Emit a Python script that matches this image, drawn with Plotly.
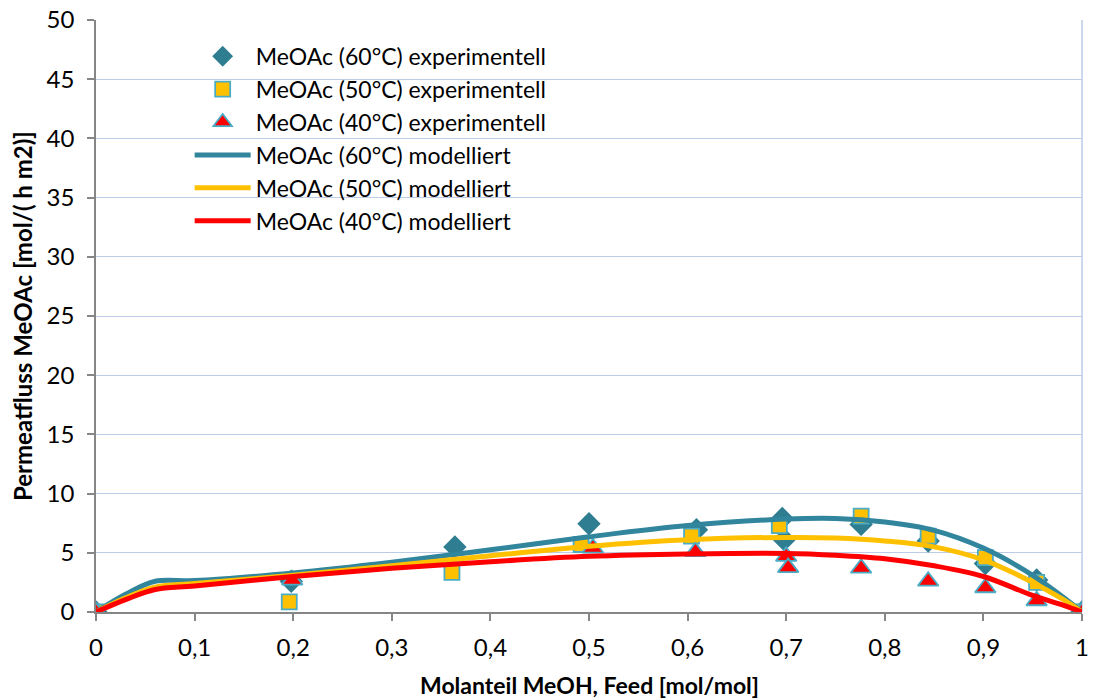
import plotly.graph_objects as go

# Experimental permeate flux of methyl acetate at three temperatures
x_60 = [0.0, 0.198, 0.364, 0.500, 0.609, 0.696, 0.698, 0.776, 0.844, 0.902, 0.954, 1.0]
y_60 = [0.0, 2.6, 5.5, 7.45, 6.95, 7.9, 6.1, 7.4, 6.0, 4.1, 2.7, 0.0]

x_50 = [0.0, 0.196, 0.361, 0.492, 0.604, 0.693, 0.776, 0.844, 0.902, 0.954, 1.0]
y_50 = [0.0, 0.85, 3.35, 5.7, 6.4, 7.3, 8.1, 6.4, 4.6, 2.5, 0.0]

x_40 = [0.0, 0.199, 0.504, 0.608, 0.700, 0.702, 0.776, 0.844, 0.902, 0.954, 1.0]
y_40 = [0.0, 2.7, 5.4, 5.1, 4.7, 3.75, 3.7, 2.6, 2.05, 0.95, 0.0]

# Model curves
x_mod = [0.0, 0.03, 0.06, 0.1, 0.2, 0.3, 0.4, 0.5, 0.6, 0.7, 0.75, 0.8, 0.85, 0.9, 0.95, 0.98, 1.0]
m_60 = [0.0, 1.5, 2.6, 2.65, 3.3, 4.2, 5.25, 6.35, 7.3, 7.85, 7.9, 7.6, 6.9, 5.4, 3.1, 1.3, 0.0]
m_50 = [0.0, 1.2, 2.1, 2.4, 3.1, 3.9, 4.75, 5.55, 6.1, 6.3, 6.25, 6.0, 5.5, 4.4, 2.5, 1.1, 0.0]
m_40 = [0.0, 1.05, 1.9, 2.2, 3.0, 3.7, 4.25, 4.7, 4.9, 4.95, 4.8, 4.5, 3.9, 3.0, 1.4, 0.6, 0.0]

x_ticks = [0, 0.1, 0.2, 0.3, 0.4, 0.5, 0.6, 0.7, 0.8, 0.9, 1.0]
x_tick_text = ["0", "0,1", "0,2", "0,3", "0,4", "0,5", "0,6", "0,7", "0,8", "0,9", "1"]

x_title = "Molanteil MeOH, Feed [mol/mol]"
y_title = "Permeatfluss MeOAc [mol/( h m2)]"

TEAL = "#31859C"
TEAL_DARK = "#2F7D90"
EDGE = "#4BACC6"
GOLD = "#FFC000"
RED = "#FF0000"
GRID = "#BCCBE6"
AXIS = "#868686"
FONT = "Lato"

fig = go.Figure()

fig.add_trace(go.Scatter(
    x=x_60, y=y_60, mode="markers", name="MeOAc (60°C) experimentell",
    legendgroup="a",
    marker=dict(symbol="diamond", size=18, color=TEAL_DARK, line=dict(width=0)),
))
fig.add_trace(go.Scatter(
    x=x_50, y=y_50, mode="markers", name="MeOAc (50°C) experimentell",
    legendgroup="b",
    marker=dict(symbol="square", size=15, color=GOLD, line=dict(width=1.8, color=EDGE)),
))
fig.add_trace(go.Scatter(
    x=x_40, y=y_40, mode="markers", name="MeOAc (40°C) experimentell",
    legendgroup="c",
    marker=dict(symbol="triangle-up", size=18, color=RED, line=dict(width=1.8, color=EDGE)),
))
fig.add_trace(go.Scatter(
    x=x_mod, y=m_60, mode="lines", name="MeOAc (60°C) modelliert",
    legendgroup="d",
    line=dict(color=TEAL, width=5, shape="spline", smoothing=1.0),
))
fig.add_trace(go.Scatter(
    x=x_mod, y=m_50, mode="lines", name="MeOAc (50°C) modelliert",
    legendgroup="e",
    line=dict(color=GOLD, width=5, shape="spline", smoothing=1.0),
))
fig.add_trace(go.Scatter(
    x=x_mod, y=m_40, mode="lines", name="MeOAc (40°C) modelliert",
    legendgroup="f",
    line=dict(color=RED, width=5, shape="spline", smoothing=1.0),
))

fig.update_layout(
    width=1094, height=700,
    margin=dict(l=96, r=12, t=20, b=88, autoexpand=False),
    paper_bgcolor="white", plot_bgcolor="white",
    font=dict(family=FONT, size=24, color="#000000"),
    showlegend=True,
    legend=dict(
        x=0.095, y=0.975, xanchor="left", yanchor="top",
        bgcolor="rgba(0,0,0,0)", borderwidth=0,
        font=dict(family=FONT, size=23),
        traceorder="grouped", tracegroupgap=0,
        itemwidth=56,
    ),
    xaxis=dict(
        range=[0, 1], tickvals=x_ticks, ticktext=x_tick_text,
        showgrid=False, zeroline=False, automargin=False,
        showline=True, linecolor=AXIS, linewidth=1.5,
        ticks="outside", ticklen=7, tickcolor=AXIS, tickwidth=1.5,
        tickfont=dict(family=FONT, size=24), ticklabelstandoff=6,
    ),
    yaxis=dict(
        range=[0, 50], tick0=0, dtick=5,
        showgrid=True, gridcolor=GRID, gridwidth=1, zeroline=False, automargin=False,
        showline=True, linecolor=AXIS, linewidth=1.5,
        ticks="outside", ticklen=7, tickcolor=AXIS, tickwidth=1.5,
        tickfont=dict(family=FONT, size=24), ticklabelstandoff=8,
    ),
    shapes=[
        dict(type="line", xref="paper", yref="paper", x0=1, x1=1, y0=0, y1=1,
             line=dict(color=GRID, width=1.5), layer="below"),
    ],
    annotations=[
        dict(text="<b>" + x_title + "</b>", xref="paper", yref="paper",
             x=0.501, y=-0.123, xanchor="center", yanchor="middle",
             showarrow=False, font=dict(family=FONT, size=23)),
        dict(text="<b>" + y_title + "</b>", xref="paper", yref="paper",
             x=-0.075, y=0.5, xanchor="center", yanchor="middle", textangle=-90,
             showarrow=False, font=dict(family=FONT, size=24)),
    ],
)

fig.write_html("out.html")
